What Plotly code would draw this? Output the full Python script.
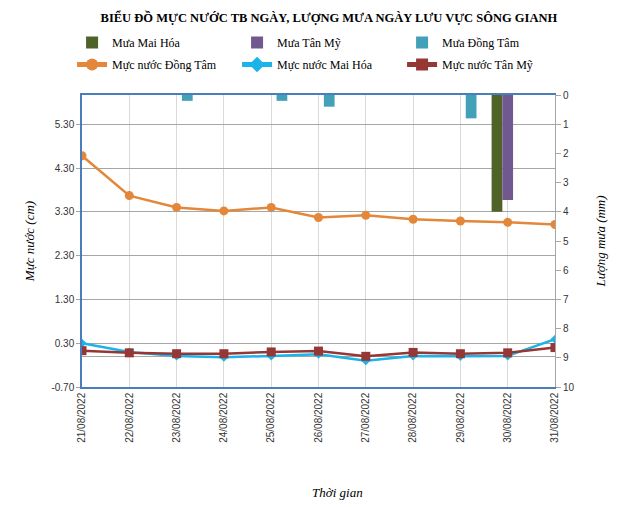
import plotly.graph_objects as go

dates = ["21/08/2022", "22/08/2022", "23/08/2022", "24/08/2022", "25/08/2022",
         "26/08/2022", "27/08/2022", "28/08/2022", "29/08/2022", "30/08/2022", "31/08/2022"]

rain_mai_hoa = [0, 0, 0, 0, 0, 0, 0, 0, 0, 4.0, 0]
rain_tan_my = [0, 0, 0, 0, 0, 0, 0, 0, 0, 3.6, 0]
rain_dong_tam = [0, 0, 0.2, 0, 0.2, 0.4, 0, 0, 0.8, 0, 0]

level_dong_tam = [4.58, 3.67, 3.40, 3.32, 3.40, 3.17, 3.22, 3.13, 3.09, 3.06, 3.01]
level_mai_hoa = [0.30, 0.10, 0.01, -0.02, 0.01, 0.05, -0.10, 0.01, 0.00, 0.01, 0.39]
level_tan_my = [0.13, 0.08, 0.06, 0.06, 0.10, 0.12, 0.00, 0.09, 0.06, 0.08, 0.20]

left_ticks = [-0.70, 0.30, 1.30, 2.30, 3.30, 4.30, 5.30]
left_ticktext = ["%.2f" % v for v in left_ticks]
right_ticks = list(range(0, 11))

serif = "Liberation Serif, Times New Roman, serif"
sans = "Liberation Sans, Arial, sans-serif"

fig = go.Figure()

fig.add_trace(go.Bar(x=dates, y=rain_mai_hoa, name="Mưa Mai Hóa", yaxis="y2",
                     marker=dict(color="#4F6228", line=dict(width=0)), legend="legend"))
fig.add_trace(go.Bar(x=dates, y=rain_tan_my, name="Mưa Tân Mỹ", yaxis="y2",
                     marker=dict(color="#71588F", line=dict(width=0)), legend="legend"))
fig.add_trace(go.Bar(x=dates, y=rain_dong_tam, name="Mưa Đồng Tâm", yaxis="y2",
                     marker=dict(color="#42A0B8", line=dict(width=0)), legend="legend"))

fig.add_trace(go.Scatter(x=dates, y=level_dong_tam, name="Mực nước Đồng Tâm", mode="lines+markers",
                         line=dict(color="#E3873A", width=2.5),
                         marker=dict(symbol="circle", size=9, color="#E3873A"), legend="legend2"))
fig.add_trace(go.Scatter(x=dates, y=level_mai_hoa, name="Mực nước Mai Hóa", mode="lines+markers",
                         line=dict(color="#1BB3E8", width=2.5),
                         marker=dict(symbol="diamond", size=7, color="#1BB3E8"), legend="legend2"))
fig.add_trace(go.Scatter(x=dates, y=level_tan_my, name="Mực nước Tân Mỹ", mode="lines+markers",
                         line=dict(color="#953735", width=2.5),
                         marker=dict(symbol="square", size=9, color="#953735"), legend="legend2"))

legend_common = dict(orientation="h", xanchor="left", yanchor="top",
                     entrywidth=120, entrywidthmode="pixels",
                     font=dict(family=serif, size=12, color="#000"),
                     bgcolor="rgba(0,0,0,0)", borderwidth=0, itemsizing="constant")

# page body has an 8px margin, so the figure is 8px smaller and offsets compensate
W, H = 620, 499
ML, MR, MT, MB = 74, 73, 87, 120
PH = H - MT - MB

fig.update_layout(
    width=W, height=H,
    margin=dict(l=ML, r=MR, t=MT, b=MB),
    paper_bgcolor="white", plot_bgcolor="white",
    barmode="group", bargap=0.32, bargroupgap=0,
    showlegend=True,
    title=dict(text="BIỂU ĐỒ MỰC NƯỚC TB NGÀY, LƯỢNG MƯA NGÀY LƯU VỰC SÔNG GIANH",
               x=0.522, xref="paper", xanchor="center", y=1 - 10 / H, yanchor="middle",
               font=dict(family=serif, size=12.5, color="#000", weight="bold")),
    legend=dict(x=-0.021, y=1 + (MT - 20) / PH, **legend_common),
    legend2=dict(x=-0.021, y=1 + (MT - 42) / PH, **legend_common),
    xaxis=dict(type="category", range=[0, 10], tickangle=-90,
               showgrid=True, gridcolor="#d9d9d9", gridwidth=1,
               showline=True, linecolor="#4A7EBB", linewidth=1.5, mirror=True,
               ticks="", tickfont=dict(family=sans, size=10, color="#333")),
    yaxis=dict(range=[-0.7, 5.967], tickvals=left_ticks, ticktext=left_ticktext,
               showgrid=True, gridcolor="#a6a6a6", gridwidth=1,
               zeroline=True, zerolinecolor="#a6a6a6", zerolinewidth=1,
               showline=True, linecolor="#4A7EBB", linewidth=1.5,
               ticks="outside", ticklen=4, tickcolor="#a6a6a6",
               tickfont=dict(family=sans, size=10, color="#333"),
               title=dict(text="Mực nước (cm)", standoff=14,
                          font=dict(family=serif, size=13, color="#000", style="italic"))),
    yaxis2=dict(overlaying="y", side="right", range=[10, 0], tickvals=right_ticks,
                showgrid=False, zeroline=False,
                showline=True, linecolor="#a6a6a6", linewidth=1,
                ticks="outside", ticklen=5, tickcolor="#a6a6a6",
                tickfont=dict(family=sans, size=10, color="#333"),
                title=dict(text="Lượng mưa (mm)", standoff=22,
                           font=dict(family=serif, size=13, color="#000", style="italic"))),
    annotations=[dict(text="Thời gian", xref="paper", yref="paper",
                      x=(329 - ML) / 473, y=-(484 - (MT + PH)) / PH, xanchor="center", yanchor="middle",
                      showarrow=False, font=dict(family=serif, size=13, color="#000", style="italic"))],
)

fig.write_html("out.html")
